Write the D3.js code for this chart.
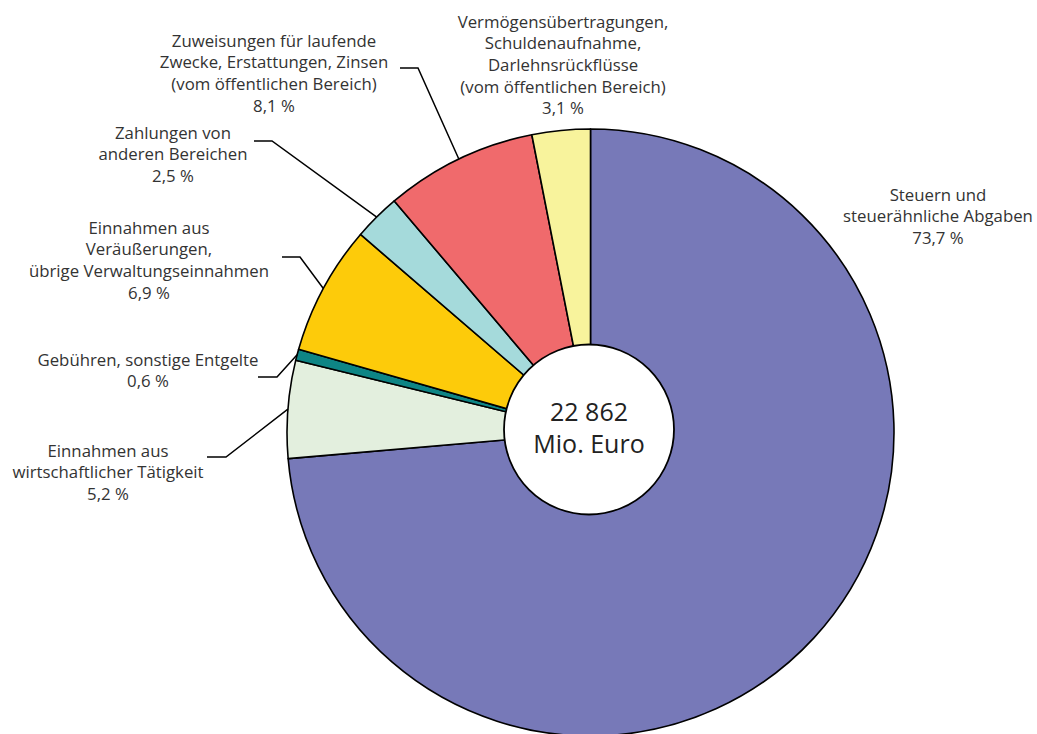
<!DOCTYPE html>
<html>
<head>
<meta charset="utf-8">
<script src="https://cdn.jsdelivr.net/npm/d3@7"></script>
<style>
  body { margin: 0; background: #fff; }
  text { font-family: "Open Sans", "Noto Sans", sans-serif; fill: #333; }
</style>
</head>
<body>
<div id="chart"></div>
<script>
// categories (clockwise from 12 o'clock) and their shares in %
const categories = [
  ["Steuern und", "steuerähnliche Abgaben"],
  ["Einnahmen aus", "wirtschaftlicher Tätigkeit"],
  ["Gebühren, sonstige Entgelte"],
  ["Einnahmen aus", "Veräußerungen,", "übrige Verwaltungseinnahmen"],
  ["Zahlungen von", "anderen Bereichen"],
  ["Zuweisungen für laufende", "Zwecke, Erstattungen, Zinsen", "(vom öffentlichen Bereich)"],
  ["Vermögensübertragungen,", "Schuldenaufnahme,", "Darlehnsrückflüsse", "(vom öffentlichen Bereich)"]
];
const shares = [73.7, 5.2, 0.6, 6.9, 2.5, 8.1, 3.1];
const shareLabels = ["73,7 %", "5,2 %", "0,6 %", "6,9 %", "2,5 %", "8,1 %", "3,1 %"];
const totalLabel = ["22 862", "Mio. Euro"];

const colors = ["#7779b8", "#e3efde", "#0e8585", "#fdcb0a", "#a5dadb", "#f06a6c", "#f8f39c"];

const w = 1037, h = 734;
const cx = 590.5, cy = 432.5, r = 303.5, rInner = 85;

// label anchor (center x, first line y) and leader stub (x1, x2, y) or null
const labelLayout = [
  { x: 938, y: 195, stub: null },
  { x: 108, y: 451, stub: [207, 226, 457] },
  { x: 148, y: 360, stub: [258, 277, 377] },
  { x: 149, y: 228, stub: [282, 300, 257] },
  { x: 173, y: 133, stub: [254, 272, 141] },
  { x: 274, y: 41,  stub: [400, 418, 68] },
  { x: 563, y: 22,  stub: null }
];
const lineH = 21.6;

const svg = d3.select("#chart")
  .append("svg")
  .attr("width", w)
  .attr("height", h);

const pie = d3.pie().sort(null).value(d => d);
const arcs = pie(shares);
const arc = d3.arc().innerRadius(0).outerRadius(r);

const g = svg.append("g").attr("transform", `translate(${cx},${cy})`);

g.selectAll("path")
  .data(arcs)
  .join("path")
  .attr("d", arc)
  .attr("fill", (d, i) => colors[i])
  .attr("stroke", "#000")
  .attr("stroke-width", 1.6)
  .attr("stroke-linejoin", "round");

// leader lines
arcs.forEach((d, i) => {
  const s = labelLayout[i].stub;
  if (!s) return;
  const a = (d.startAngle + d.endAngle) / 2;
  const ex = cx + Math.sin(a) * r, ey = cy - Math.cos(a) * r;
  svg.append("polyline")
    .attr("points", `${s[0]},${s[2]} ${s[1]},${s[2]} ${ex},${ey}`)
    .attr("fill", "none")
    .attr("stroke", "#000")
    .attr("stroke-width", 1.5);
});

// labels
categories.forEach((lines, i) => {
  const L = labelLayout[i];
  const t = svg.append("text")
    .attr("text-anchor", "middle")
    .style("font-size", "16.8px");
  lines.concat([shareLabels[i]]).forEach((s, j) => {
    t.append("tspan")
      .attr("x", L.x)
      .attr("y", L.y + j * lineH)
      .attr("dy", "0.35em")
      .text(s);
  });
});

// center circle with total
g.append("circle")
  .attr("r", rInner)
  .attr("cx", -1.5)
  .attr("cy", -3)
  .attr("fill", "#fff")
  .attr("stroke", "#000")
  .attr("stroke-width", 1.8);

g.append("text")
  .attr("text-anchor", "middle")
  .style("font-size", "25px")
  .style("fill", "#222")
  .selectAll("tspan")
  .data(totalLabel)
  .join("tspan")
  .attr("x", -1.5)
  .attr("y", (d, i) => -12 + i * 32)
  .text(d => d);
</script>
</body>
</html>
